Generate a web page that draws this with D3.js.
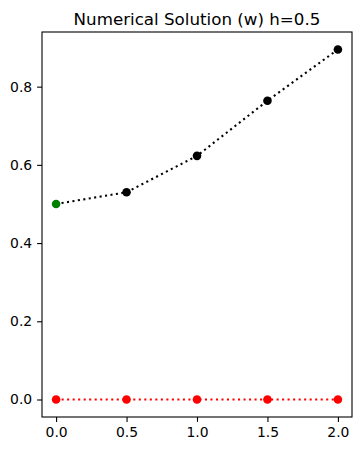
<!DOCTYPE html>
<html>
<head>
<meta charset="utf-8">
<script src="https://cdn.jsdelivr.net/npm/d3@7"></script>
<style>
  body { margin: 0; background: #fff; }
  svg { display: block; font-family: "DejaVu Sans", sans-serif; }
  .tick text { font-size: 13.9px; fill: #000; }
</style>
</head>
<body>
<div id="canvas"></div>
<script>
// data
var xValues = [0.0, 0.5, 1.0, 1.5, 2.0];
var wValues = [0.5, 0.53, 0.623, 0.764, 0.895];
var zeroValues = [0, 0, 0, 0, 0];
var xTicks = [0.0, 0.5, 1.0, 1.5, 2.0];
var yTicks = [0.0, 0.2, 0.4, 0.6, 0.8];
var titleText = "Numerical Solution (w) h=0.5";

var width = 361, height = 451;
var margin = {top: 32, right: 9, bottom: 34, left: 42};
var innerW = width - margin.left - margin.right;
var innerH = height - margin.top - margin.bottom;

var svg = d3.select("#canvas")
    .append("svg")
        .attr("width", width)
        .attr("height", height);

var g = svg.append("g")
    .attr("transform", "translate(" + margin.left + "," + margin.top + ")");

// matplotlib style 5% padding
var xMin = d3.min(xValues), xMax = d3.max(xValues);
var xPad = (xMax - xMin) * 0.05;
var yMin = d3.min(zeroValues.concat(wValues)), yMax = d3.max(zeroValues.concat(wValues));
var yPad = (yMax - yMin) * 0.05;

var xScale = d3.scaleLinear()
    .domain([xMin - xPad, xMax + xPad])
    .range([0, innerW]);

var yScale = d3.scaleLinear()
    .domain([yMin - yPad, yMax + yPad])
    .range([innerH, 0]);

var xAxis = d3.axisBottom(xScale)
    .tickValues(xTicks)
    .tickFormat(d3.format(".1f"))
    .tickSizeInner(4.9).tickSizeOuter(0).tickPadding(4.9);

var yAxis = d3.axisLeft(yScale)
    .tickValues(yTicks)
    .tickFormat(d3.format(".1f"))
    .tickSizeInner(4.9).tickSizeOuter(0).tickPadding(4.9);

var lw = 2.08;
var dash = (lw * 1) + "," + (lw * 1.65);

var line = d3.line()
    .x(function(d) { return xScale(d[0]); })
    .y(function(d) { return yScale(d[1]); });

// red zero line
g.append("path")
    .datum(d3.zip(xValues, zeroValues))
    .attr("d", line)
    .attr("fill", "none")
    .attr("stroke", "red")
    .attr("stroke-width", lw)
    .attr("stroke-dasharray", dash);

g.selectAll(".redpt")
    .data(d3.zip(xValues, zeroValues))
    .enter().append("circle")
    .attr("class", "redpt")
    .attr("cx", function(d) { return xScale(d[0]); })
    .attr("cy", function(d) { return yScale(d[1]); })
    .attr("r", 4.3)
    .attr("fill", "red");

// black solution line
g.append("path")
    .datum(d3.zip(xValues, wValues))
    .attr("d", line)
    .attr("fill", "none")
    .attr("stroke", "black")
    .attr("stroke-width", lw)
    .attr("stroke-dasharray", dash);

g.selectAll(".blackpt")
    .data(d3.zip(xValues, wValues).slice(1))
    .enter().append("circle")
    .attr("class", "blackpt")
    .attr("cx", function(d) { return xScale(d[0]); })
    .attr("cy", function(d) { return yScale(d[1]); })
    .attr("r", 4.3)
    .attr("fill", "black");

// initial value in green
g.append("circle")
    .attr("cx", xScale(xValues[0]))
    .attr("cy", yScale(wValues[0]))
    .attr("r", 4.3)
    .attr("fill", "green");

g.append("g")
    .attr("transform", "translate(0," + innerH + ")")
    .call(xAxis)
    .call(function(s) { s.select(".domain").remove(); })
    .selectAll("line").attr("stroke-width", 1.1);

g.append("g")
    .call(yAxis)
    .call(function(s) { s.select(".domain").remove(); })
    .selectAll("line").attr("stroke-width", 1.1);

g.selectAll(".tick text").attr("font-size", "13.9px").attr("font-family", "DejaVu Sans");

// frame
g.append("rect")
    .attr("x", 0).attr("y", 0)
    .attr("width", innerW).attr("height", innerH)
    .attr("fill", "none")
    .attr("stroke", "black")
    .attr("stroke-width", 1.1);

svg.append("text")
    .attr("x", margin.left + innerW / 2)
    .attr("y", margin.top - 7.5)
    .attr("text-anchor", "middle")
    .attr("font-size", "16.7px")
    .attr("font-family", "DejaVu Sans")
    .text(titleText);
</script>
</body>
</html>
